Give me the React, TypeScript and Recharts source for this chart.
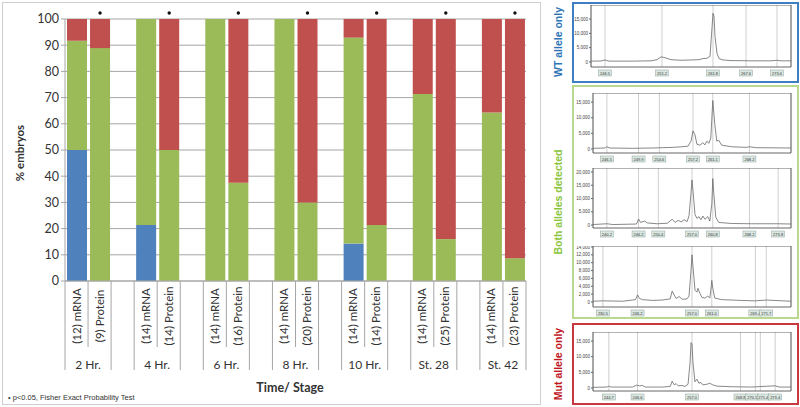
import React from "react";
import {
  Bar,
  BarChart,
  CartesianGrid,
  LabelList,
  Line,
  LineChart,
  ReferenceArea,
  XAxis,
  YAxis,
} from "recharts";

// main stacked chart: % embryos per genotype class
const stages = ["2 Hr.", "4 Hr.", "6 Hr.", "8 Hr.", "10 Hr.", "St. 28", "St. 42"];
const mrnaN = [12, 14, 14, 14, 14, 14, 14];
const proteinN = [9, 14, 16, 20, 14, 25, 23];
const mrnaWt = [50, 21.4, 0, 0, 14.3, 0, 0];
const mrnaBoth = [41.7, 78.6, 100, 100, 78.6, 71.4, 64.3];
const mrnaMut = [8.3, 0, 0, 0, 7.1, 28.6, 35.7];
const proteinWt = [0, 0, 0, 0, 0, 0, 0];
const proteinBoth = [88.9, 50, 37.5, 30, 21.4, 16, 8.7];
const proteinMut = [11.1, 50, 62.5, 70, 78.6, 84, 91.3];
const proteinSig = [true, true, true, true, true, true, true];
const yTicks = [0, 10, 20, 30, 40, 50, 60, 70, 80, 90, 100];

// electropherogram traces: [scan position, rfu]
const wtTrace = [
  [0, 300], [10, 350], [14, 700], [18, 300], [40, 300], [60, 400], [66, 800], [70, 1800],
  [74, 1500], [80, 800], [90, 600], [100, 700], [108, 800], [112, 1200], [116, 1300],
  [119, 2000], [121, 12000], [122, 17000], [123, 16000], [124, 9000], [126, 3000],
  [128, 1200], [132, 700], [140, 500], [160, 400], [180, 400], [186, 600], [190, 400], [200, 400],
];
const wtMarkers = [14, 71, 122, 155, 186];
const wtMarkerLabels = ["246.5", "251.2", "261.8", "267.6", "273.6"];
const wtYTicks = [0, 5000, 10000, 15000];

const both1Trace = [
  [0, 200], [12, 300], [14, 700], [17, 300], [40, 200], [60, 300], [80, 500], [90, 700],
  [96, 900], [99, 2500], [101, 5800], [103, 4500], [105, 1500], [108, 1200], [111, 2000],
  [113, 1300], [115, 2500], [117, 1800], [119, 3500], [121, 15500], [123, 8000], [125, 2500],
  [127, 2800], [130, 1200], [140, 700], [155, 500], [158, 700], [165, 400], [200, 300],
];
const both1Markers = [14, 46, 67, 101, 121, 158];
const both1MarkerLabels = ["246.5", "249.9", "254.6", "257.2", "261.1", "268.2"];
const both1YTicks = [0, 5000, 10000, 15000];

const both2Trace = [
  [0, 200], [14, 500], [20, 200], [44, 400], [46, 2300], [48, 1000], [52, 1500], [55, 800],
  [65, 500], [75, 700], [80, 2200], [83, 1000], [86, 1800], [89, 1200], [92, 2000], [95, 1300],
  [97, 3500], [99, 12000], [100, 17000], [101, 13000], [103, 4000], [105, 2500], [107, 3200],
  [109, 2000], [111, 3400], [113, 2200], [116, 3200], [118, 1500], [120, 8000], [121, 17500],
  [122, 12000], [124, 3000], [127, 1000], [140, 600], [160, 500], [187, 500], [200, 400],
];
const both2Markers = [14, 46, 66, 100, 121, 158, 187];
const both2MarkerLabels = ["240.2", "246.2", "250.4", "257.0", "260.8", "268.2", "273.8"];
const both2YTicks = [0, 5000, 10000, 15000, 20000];

const both3Trace = [
  [0, 200], [10, 300], [30, 200], [43, 600], [45, 1800], [47, 900], [50, 600], [60, 400],
  [70, 500], [78, 800], [80, 2800], [82, 1800], [84, 900], [87, 1400], [90, 700], [95, 800],
  [97, 1500], [99, 8000], [100, 12000], [101, 9000], [103, 3000], [105, 2500], [106, 3500],
  [108, 2200], [110, 1200], [113, 1000], [116, 1500], [118, 1000], [119, 3000], [120, 5500],
  [121, 3500], [123, 1000], [130, 600], [150, 400], [164, 300], [175, 500], [200, 200],
];
const both3Markers = [10, 45, 100, 120, 164, 175];
const both3MarkerLabels = ["230.5", "246.2", "257.0", "261.0", "269.4", "271.7"];
const both3YTicks = [0, 2000, 4000, 6000, 8000, 10000, 12000, 14000];

const mutTrace = [
  [0, 200], [14, 300], [16, 600], [18, 300], [40, 300], [44, 900], [47, 700], [50, 800],
  [53, 300], [70, 300], [78, 500], [80, 2200], [82, 1000], [84, 1400], [86, 700], [90, 800],
  [93, 500], [96, 1200], [98, 8000], [99, 14500], [100, 14000], [101, 8000], [103, 2000],
  [105, 2800], [107, 1500], [109, 1800], [111, 1000], [115, 1200], [118, 1500], [121, 1000],
  [125, 600], [140, 400], [160, 300], [184, 700], [188, 300], [200, 300],
];
const mutMarkers = [16, 45, 100, 149, 164, 169, 184];
const mutMarkerLabels = ["244.7", "246.6", "257.0", "268.8", "270.5", "271.4", "273.4"];
const mutYTicks = [0, 5000, 10000, 15000];

type Row = {
  id: string;
  label: string;
  stage: string;
  wt?: number;
  both?: number;
  mut?: number;
  sig?: boolean;
};

const rows: Row[] = [];
stages.forEach((stage, i) => {
  rows.push({ id: `m${i}`, label: `(${mrnaN[i]}) mRNA`, stage, wt: mrnaWt[i], both: mrnaBoth[i], mut: mrnaMut[i], sig: false });
  rows.push({ id: `p${i}`, label: `(${proteinN[i]}) Protein`, stage, wt: proteinWt[i], both: proteinBoth[i], mut: proteinMut[i], sig: proteinSig[i] });
  if (i < stages.length - 1) rows.push({ id: `b${i}`, label: "", stage: "" });
});

const PLOT_LEFT = 65;
const PLOT_RIGHT = 526;
const AXIS_Y = 281;
const SLOT = (PLOT_RIGHT - PLOT_LEFT) / rows.length;
const LINE = "#a6a6a6";
const FONT = "Lato, 'Open Sans', sans-serif";

function CategoryTick(props: any) {
  const { x, payload } = props;
  const i = payload.index;
  const row = rows[i];
  const left = x - SLOT / 2;
  const kind = i % 3;
  return (
    <g>
      <line x1={left} x2={left} y1={AXIS_Y} y2={kind === 1 ? 347 : 370} stroke={LINE} />
      {i === rows.length - 1 && (
        <line x1={left + SLOT} x2={left + SLOT} y1={AXIS_Y} y2={370} stroke={LINE} />
      )}
      {row.label && (
        <text
          transform={`translate(${x + 4},316) rotate(-90)`}
          textAnchor="middle"
          fontSize={11.5}
          fontFamily={FONT}
          fill="#333"
        >
          {row.label}
        </text>
      )}
      {kind === 0 && (
        <text x={left + SLOT} y={369} textAnchor="middle" fontSize={12} fontFamily={FONT} fill="#333">
          {row.stage}
        </text>
      )}
    </g>
  );
}

// dot above significant protein bars; value is the row's sig flag
function SigDot(props: any) {
  const { x, width, value } = props;
  if (value !== true) return null;
  return <circle cx={x + width / 2} cy={13} r={1.7} fill="#111" />;
}

function StageChart() {
  return (
    <BarChart
      width={540}
      height={407}
      data={rows}
      margin={{ top: 19, right: 540 - PLOT_RIGHT, bottom: 0, left: 0 }}
      barSize={20}
    >
      <CartesianGrid vertical={false} stroke={LINE} />
      <XAxis
        dataKey="id"
        height={407 - AXIS_Y}
        interval={0}
        tickLine={false}
        axisLine={{ stroke: LINE }}
        tick={<CategoryTick />}
      />
      <YAxis
        width={PLOT_LEFT}
        domain={[0, 100]}
        ticks={yTicks}
        interval={0}
        axisLine={{ stroke: LINE }}
        tickLine={{ stroke: LINE }}
        tickSize={4}
        tick={{ fontSize: 12.5, fill: "#333", fontFamily: FONT }}
      />
      <Bar dataKey="wt" stackId="a" fill="#4f81bd" isAnimationActive={false} />
      <Bar dataKey="both" stackId="a" fill="#9bbb59" isAnimationActive={false} />
      <Bar dataKey="mut" stackId="a" fill="#c0504d" isAnimationActive={false}>
        <LabelList dataKey="sig" content={<SigDot />} />
      </Bar>
    </BarChart>
  );
}

type TraceProps = {
  left: number;
  top: number;
  w: number;
  h: number;
  domain: [number, number];
  yTicks: number[];
  trace: number[][];
  markers: number[];
  markerLabels: string[];
};

const YW = 22;

function Trace({ left, top, w, h, domain, yTicks: ticks, trace, markers, markerLabels }: TraceProps) {
  const data = trace.map(([u, v]) => ({ u, v }));
  const MarkerTick = (p: any) => {
    const idx = markers.indexOf(p.payload.value);
    const prevClose = idx > 0 && markers[idx] - markers[idx - 1] < 8;
    const nextClose = idx < markers.length - 1 && markers[idx + 1] - markers[idx] < 8;
    const anchor = nextClose ? "end" : prevClose ? "start" : "middle";
    const tx = nextClose ? p.x + 2 : prevClose ? p.x - 2 : p.x;
    const bw = 13;
    const bx = anchor === "end" ? tx - bw + 1 : anchor === "start" ? tx - 1 : tx - bw / 2;
    return (
      <g>
        <rect x={bx} y={h + 3} width={bw} height={6} fill="#dbe8e2" stroke="#8fa39b" strokeWidth={0.5} />
        <text x={tx} y={h + 7.6} textAnchor={anchor} fontSize={4} fill="#333" fontFamily="'Liberation Sans', Arial">
          {markerLabels[idx]}
        </text>
      </g>
    );
  };
  return (
    <div style={{ position: "absolute", left: left - YW, top }}>
      <LineChart width={w + YW + 2} height={h + 12} data={data} margin={{ top: 0, right: 2, left: 0, bottom: 0 }}>
        <CartesianGrid horizontal={false} stroke="#cfcfcf" />
        <XAxis
          type="number"
          dataKey="u"
          domain={[0, 200]}
          ticks={markers}
          interval={0}
          height={12}
          axisLine={false}
          tickLine={false}
          tick={MarkerTick}
        />
        <YAxis
          width={YW}
          domain={domain}
          ticks={ticks}
          interval={0}
          axisLine={false}
          tickLine={{ stroke: "#666" }}
          tickSize={2}
          tickMargin={1}
          tickFormatter={(v: number) => v.toLocaleString("en-US")}
          tick={{ fontSize: 4.5, fill: "#444", fontFamily: "'Liberation Sans', Arial" }}
        />
        <ReferenceArea x1={0} x2={200} y1={domain[0]} y2={domain[1]} stroke="#555" strokeWidth={0.9} fill="none" ifOverflow="visible" />
        <Line type="linear" dataKey="v" stroke="#6a6a6a" strokeWidth={0.8} dot={false} isAnimationActive={false} />
      </LineChart>
    </div>
  );
}

function SideLabel({ text, color, cx, cy }: { text: string; color: string; cx: number; cy: number }) {
  return (
    <div
      style={{
        position: "absolute",
        left: cx - 80,
        top: cy - 7,
        width: 160,
        height: 14,
        lineHeight: "14px",
        textAlign: "center",
        transform: "rotate(-90deg)",
        color,
        fontWeight: 700,
        fontSize: 10.5,
        fontFamily: "'Liberation Sans', Arial, sans-serif",
        whiteSpace: "nowrap",
      }}
    >
      {text}
    </div>
  );
}

export default function App() {
  return (
    <div style={{ position: "absolute", left: 0, top: 0, width: 800, height: 407, background: "#fff", overflow: "hidden" }}>
      <div style={{ position: "absolute", left: 2, top: 2, width: 537, height: 401, border: "1px solid #cfcfcf" }} />
      <div style={{ position: "absolute", left: 0, top: 0 }}>
        <StageChart />
      </div>
      <svg style={{ position: "absolute", left: 0, top: 0 }} width={540} height={407}>
        <text transform="translate(24,153) rotate(-90)" textAnchor="middle" fontSize={11.5} fontWeight={700} fontFamily={FONT} fill="#333">
          % embryos
        </text>
        <text x={290} y={392} textAnchor="middle" fontSize={12.5} fontWeight={700} fontFamily={FONT} fill="#333">
          Time/ Stage
        </text>
        <text x={8} y={400} fontSize={7.5} fontFamily="'Liberation Sans', Arial" fill="#333">
          • p&lt;0.05, Fisher Exact Probability Test
        </text>
      </svg>

      <SideLabel text="WT allele only" color="#2e75b6" cx={558} cy={42} />
      <SideLabel text="Both alleles detected" color="#8cc63f" cx={558} cy={202} />
      <SideLabel text="Mut allele only" color="#c0161e" cx={558} cy={364} />

      <div style={{ position: "absolute", left: 572, top: 2, width: 223, height: 77, border: "2px solid #3d7fc2" }} />
      <div style={{ position: "absolute", left: 572, top: 85, width: 223, height: 230, border: "2px solid #b9d98f" }} />
      <div style={{ position: "absolute", left: 572, top: 323, width: 223, height: 78, border: "2px solid #c9373f" }} />

      <Trace left={591} top={5} w={200} h={62} domain={[-1750, 19900]} yTicks={wtYTicks} trace={wtTrace} markers={wtMarkers} markerLabels={wtMarkerLabels} />
      <Trace left={593} top={93} w={198} h={60} domain={[-1300, 17900]} yTicks={both1YTicks} trace={both1Trace} markers={both1Markers} markerLabels={both1MarkerLabels} />
      <Trace left={593} top={168} w={198} h={60} domain={[-1100, 21500]} yTicks={both2YTicks} trace={both2Trace} markers={both2Markers} markerLabels={both2MarkerLabels} />
      <Trace left={593} top={246} w={198} h={61} domain={[-1270, 14250]} yTicks={both3YTicks} trace={both3Trace} markers={both3Markers} markerLabels={both3MarkerLabels} />
      <Trace left={593} top={332} w={198} h={59} domain={[-960, 17900]} yTicks={mutYTicks} trace={mutTrace} markers={mutMarkers} markerLabels={mutMarkerLabels} />
    </div>
  );
}
